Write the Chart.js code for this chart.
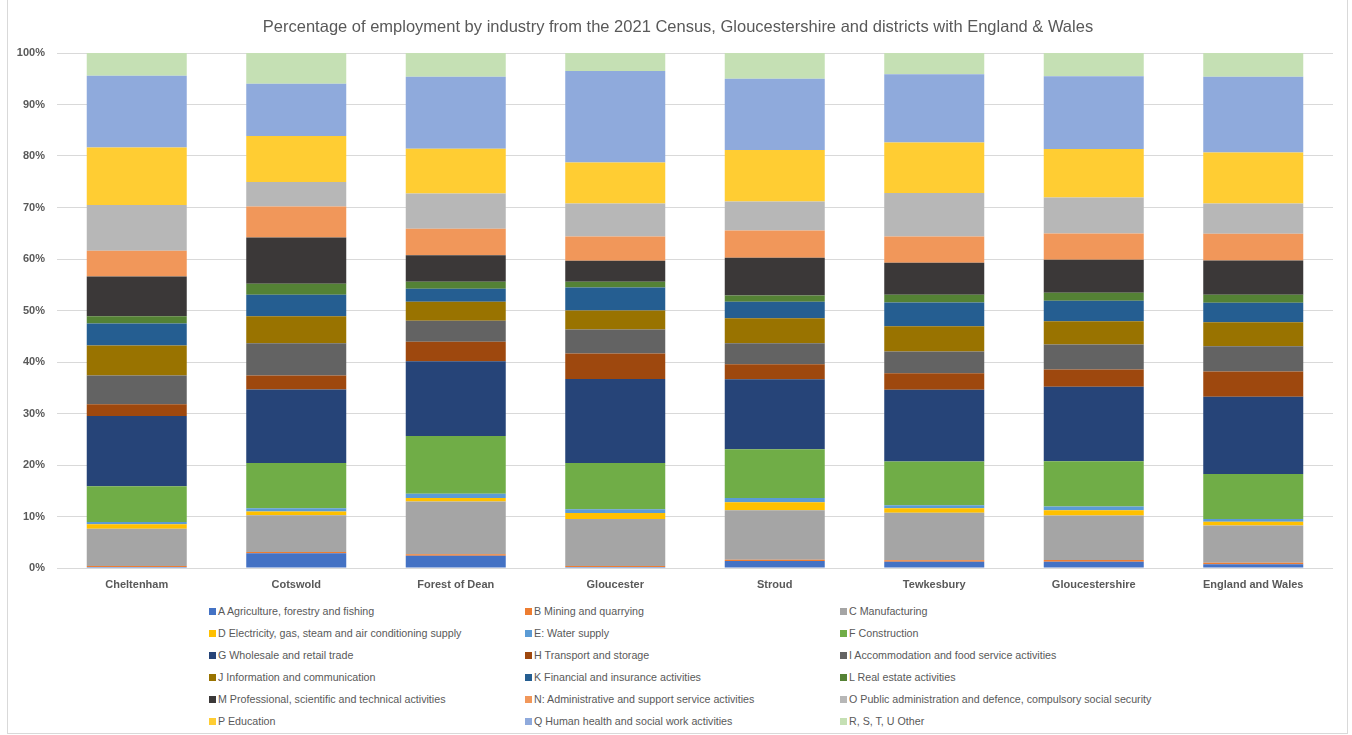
<!DOCTYPE html>
<html>
<head>
<meta charset="utf-8">
<script src="https://cdn.jsdelivr.net/npm/chart.js@4.4.1/dist/chart.umd.min.js"></script>
<style>
  body { margin: 0; background: #fff; font-family: "Liberation Sans", Arial, sans-serif; }
  #wrap { position: relative; width: 1352px; height: 735px; overflow: hidden; }
  #frame { position: absolute; left: 7px; top: -1px; width: 1339px; height: 733px; border: 1px solid #d9d9d9; }
  #title { position: absolute; left: 0; top: 16px; width: 1356px; text-align: center;
           font-size: 16.5px; line-height: 20px; color: #595959; }
  #chart-box { position: absolute; left: 0; top: 0; width: 1352px; height: 600px; }
  #legend { position: absolute; left: 209px; top: 600px; display: grid;
            grid-template-columns: 316px 315px 340px; grid-auto-rows: 22px; }
  .item { display: flex; align-items: center; font-size: 10.7px; color: #595959; white-space: nowrap; }
  .sw { width: 7px; height: 7px; margin-right: 2px; flex: none; }
</style>
</head>
<body>
<div id="wrap">
  <div id="frame"></div>
  <div id="chart-box"><canvas id="chart"></canvas></div>
  <div id="title">Percentage of employment by industry from the 2021 Census, Gloucestershire and districts with England &amp; Wales</div>
  <div id="legend"></div>
</div>
<script>
// Categories
const areas = ['Cheltenham', 'Cotswold', 'Forest of Dean', 'Gloucester', 'Stroud', 'Tewkesbury', 'Gloucestershire', 'England and Wales'];

// Series values (% of employment), one array per industry, in the order of areas
const agriculture = [0.2, 2.85, 2.4, 0.2, 1.36, 1.23, 1.23, 0.71];
const mining = [0.19, 0.26, 0.26, 0.19, 0.26, 0.26, 0.32, 0.33];
const manufacturing = [7.25, 7.12, 10.23, 9.13, 9.58, 9.26, 8.62, 7.19];
const electricity = [0.84, 0.72, 0.71, 1.17, 1.56, 0.84, 1.03, 0.77];
const water = [0.46, 0.64, 0.84, 0.71, 0.84, 0.59, 0.72, 0.52];
const construction = [6.93, 8.81, 11.21, 9.0, 9.46, 8.48, 8.81, 8.74];
const wholesale = [13.66, 14.25, 14.51, 16.32, 13.6, 13.93, 14.44, 14.97];
const transport = [2.27, 2.72, 3.75, 4.93, 2.91, 3.23, 3.37, 4.92];
const accommodation = [5.57, 6.28, 4.08, 4.66, 4.08, 4.21, 4.85, 4.92];
const information = [5.83, 5.25, 3.69, 3.69, 4.85, 4.93, 4.54, 4.66];
const financial = [4.27, 4.14, 2.53, 4.47, 3.18, 4.59, 3.95, 3.76];
const realEstate = [1.43, 2.14, 1.36, 1.1, 1.23, 1.49, 1.55, 1.55];
const professional = [7.7, 9.0, 5.18, 4.08, 7.32, 6.22, 6.41, 6.68];
const administrative = [5.0, 6.02, 5.12, 4.73, 5.31, 5.12, 5.12, 5.18];
const publicAdmin = [8.87, 4.74, 6.86, 6.41, 5.64, 8.42, 7.0, 5.89];
const education = [11.2, 8.93, 8.68, 7.97, 9.97, 9.84, 9.39, 9.91];
const health = [13.93, 10.17, 13.99, 17.74, 13.86, 13.21, 14.12, 14.7];
const other = [4.4, 5.96, 4.6, 3.5, 4.99, 4.15, 4.53, 4.6];

const industryLabels = [
    'A Agriculture, forestry and fishing', 'B Mining and quarrying', 'C Manufacturing',
    'D Electricity, gas, steam and air conditioning supply', 'E: Water supply', 'F Construction',
    'G Wholesale and retail trade', 'H Transport and storage', 'I Accommodation and food service activities',
    'J Information and communication', 'K Financial and insurance activities', 'L Real estate activities',
    'M Professional, scientific and technical activities', 'N: Administrative and support service activities', 'O Public administration and defence, compulsory social security',
    'P Education', 'Q Human health and social work activities', 'R, S, T, U Other'
];
const industryValues = [agriculture, mining, manufacturing, electricity, water, construction,
    wholesale, transport, accommodation, information, financial, realEstate,
    professional, administrative, publicAdmin, education, health, other];

// Y axis ticks
const yTicks = [0, 10, 20, 30, 40, 50, 60, 70, 80, 90, 100];

const colors = ['#4472C4', '#ED7D31', '#A5A5A5', '#FFC000', '#5B9BD5', '#70AD47',
    '#264478', '#9E480E', '#636363', '#997300', '#255E91', '#548235',
    '#3B3838', '#F1975A', '#B7B7B7', '#FFCD33', '#8FAADC', '#C5E0B4'];

const textColor = '#595959';

const datasets = industryLabels.map((label, i) => ({
    label: label,
    data: industryValues[i],
    backgroundColor: colors[i],
    borderWidth: 0,
    barPercentage: 0.627,
    categoryPercentage: 1
}));

const ctx = document.getElementById('chart').getContext('2d');
new Chart(ctx, {
    type: 'bar',
    data: { labels: areas, datasets: datasets },
    options: {
        responsive: true,
        maintainAspectRatio: false,
        animation: false,
        // top padding leaves room for the HTML title
        layout: { padding: { left: 0, right: 19, top: 53, bottom: 2 } },
        plugins: {
            legend: { display: false },
            tooltip: { enabled: false },
            title: { display: false }
        },
        scales: {
            x: {
                stacked: true,
                grid: { display: false },
                border: { display: false },
                ticks: {
                    color: textColor,
                    padding: 2,
                    font: { family: '"Liberation Sans", Arial, sans-serif', size: 11, weight: 'bold' }
                },
                afterFit: (scale) => { scale.height = 30; }
            },
            y: {
                stacked: true,
                min: 0,
                max: 100,
                afterBuildTicks: (scale) => { scale.ticks = yTicks.map(v => ({ value: v })); },
                grid: { color: '#d9d9d9', lineWidth: 1, drawTicks: false },
                border: { display: false },
                ticks: {
                    color: textColor,
                    padding: 12,
                    font: { family: '"Liberation Sans", Arial, sans-serif', size: 11, weight: 'bold' },
                    callback: (v) => v + '%'
                },
                afterFit: (scale) => { scale.width = 57; }
            }
        }
    }
});

// HTML legend, three columns like the original
const legendEl = document.getElementById('legend');
industryLabels.forEach((label, i) => {
    const item = document.createElement('div');
    item.className = 'item';
    item.innerHTML = `<span class="sw" style="background:${colors[i]}"></span><span>${label}</span>`;
    legendEl.appendChild(item);
});
</script>
</body>
</html>
